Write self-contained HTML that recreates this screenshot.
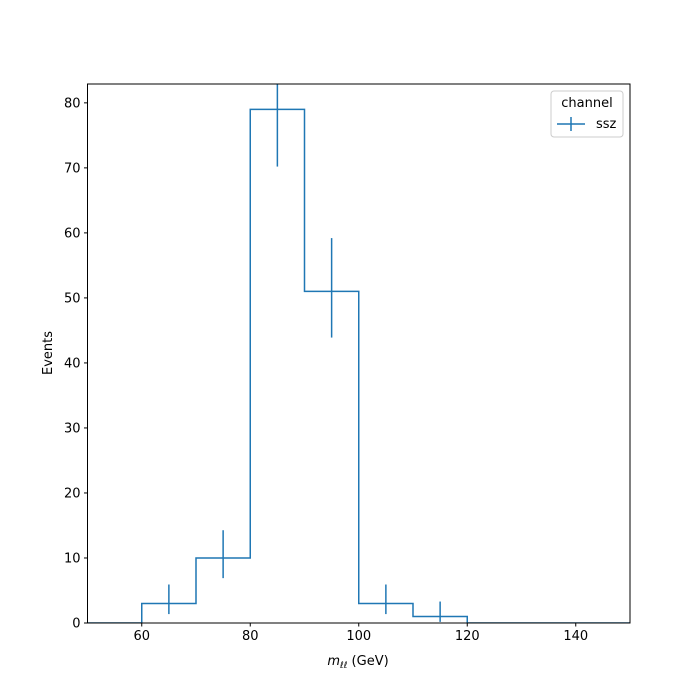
<!DOCTYPE html>
<html><head><meta charset="utf-8"><style>
html,body{margin:0;padding:0;background:#fff;width:700px;height:700px;overflow:hidden;position:relative}
svg{display:block}
svg text{font-family:"DejaVu Sans","Liberation Sans",sans-serif}
</style></head><body>
<svg id="chart" width="700" height="700" style="position:absolute;left:0;top:0">
<rect width="700" height="700" fill="#fff"/>
<defs><clipPath id="clip"><rect x="87.5" y="84" width="542.5" height="539"/></clipPath></defs>
<g id="plot" clip-path="url(#clip)"></g>
<g id="axes"></g>
</svg>
<script>
const binEdges=[50,60,70,80,90,100,110,120,130,140,150];
const counts=[0,3,10,79,51,3,1,0,0,0];
const errLow=[0,1.63,3.1,8.8,7.1,1.63,0.83,0,0,0];
const errHigh=[0,2.92,4.27,9.9,8.2,2.92,2.3,0,0,0];
const xTicks=[60,80,100,120,140];
const yTicks=[0,10,20,30,40,50,60,70,80];
const X0=87.5,X1=630,Y0=623,Y1=84,xmin=50,xmax=150,ymin=0,ymax=82.9;
const sx=v=>X0+(v-xmin)/(xmax-xmin)*(X1-X0);
const sy=v=>Y0-(v-ymin)/(ymax-ymin)*(Y0-Y1);
const NS="http://www.w3.org/2000/svg";
const plot=document.getElementById('plot'),axes=document.getElementById('axes');
function mk(tag,attrs,parent){const e=document.createElementNS(NS,tag);for(const k in attrs)e.setAttribute(k,attrs[k]);parent.appendChild(e);return e;}
let d=`M${sx(binEdges[0])},${sy(0)}`;
counts.forEach((c,i)=>{d+=` L${sx(binEdges[i])},${sy(c)} L${sx(binEdges[i+1])},${sy(c)}`;});
const step=mk('path',{d:d,fill:'none',stroke:'#1f77b4','stroke-width':1.5},plot);


counts.forEach((c,i)=>{
  if(c<=0)return;
  const cx=(binEdges[i]+binEdges[i+1])/2;
  const eb=mk('line',{x1:sx(cx),x2:sx(cx),y1:sy(c-errLow[i]),y2:sy(c+errHigh[i]),stroke:'#1f77b4','stroke-width':1.5},plot);
  
  
});
const frame=mk('rect',{x:X0,y:Y1,width:X1-X0,height:Y0-Y1,fill:'none',stroke:'#000','stroke-width':1},axes);


xTicks.forEach(t=>{
  mk('line',{x1:sx(t),x2:sx(t),y1:Y0,y2:Y0+3.5,stroke:'#000'},axes);
  const tx=mk('text',{x:sx(t),y:Y0+17,'text-anchor':'middle','font-size':13},axes);tx.textContent=t;
  
  
});
yTicks.forEach(t=>{
  mk('line',{x1:X0,x2:X0-3.5,y1:sy(t),y2:sy(t),stroke:'#000'},axes);
  const tx=mk('text',{x:X0-7,y:sy(t)+4.5,'text-anchor':'end','font-size':13},axes);tx.textContent=t;
  
  
});
</script>
<svg style="position:absolute;left:0;top:0" width="700" height="700">
<text x="358" y="665" text-anchor="middle" font-size="13" font-family="DejaVu Sans,sans-serif"><tspan font-style="italic">m</tspan><tspan font-style="italic" font-size="9" dy="3">ℓℓ</tspan><tspan dy="-3"> (GeV)</tspan></text>
<text transform="translate(52,353) rotate(-90)" text-anchor="middle" font-size="13" font-family="DejaVu Sans,sans-serif">Events</text>
<g>
<rect x="551" y="91" width="72" height="46" rx="3" fill="#fff" fill-opacity="0.8" stroke="#ccc"/>
<text x="587" y="107" text-anchor="middle" font-size="13" font-family="DejaVu Sans,sans-serif">channel</text>
<line x1="557" x2="585" y1="124" y2="124" stroke="#1f77b4" stroke-width="1.5"/>
<line x1="571" x2="571" y1="117" y2="131" stroke="#1f77b4" stroke-width="1.5"/>
<text x="596" y="128" font-size="13" font-family="DejaVu Sans,sans-serif">ssz</text>
</g>
</svg>
</body></html>
